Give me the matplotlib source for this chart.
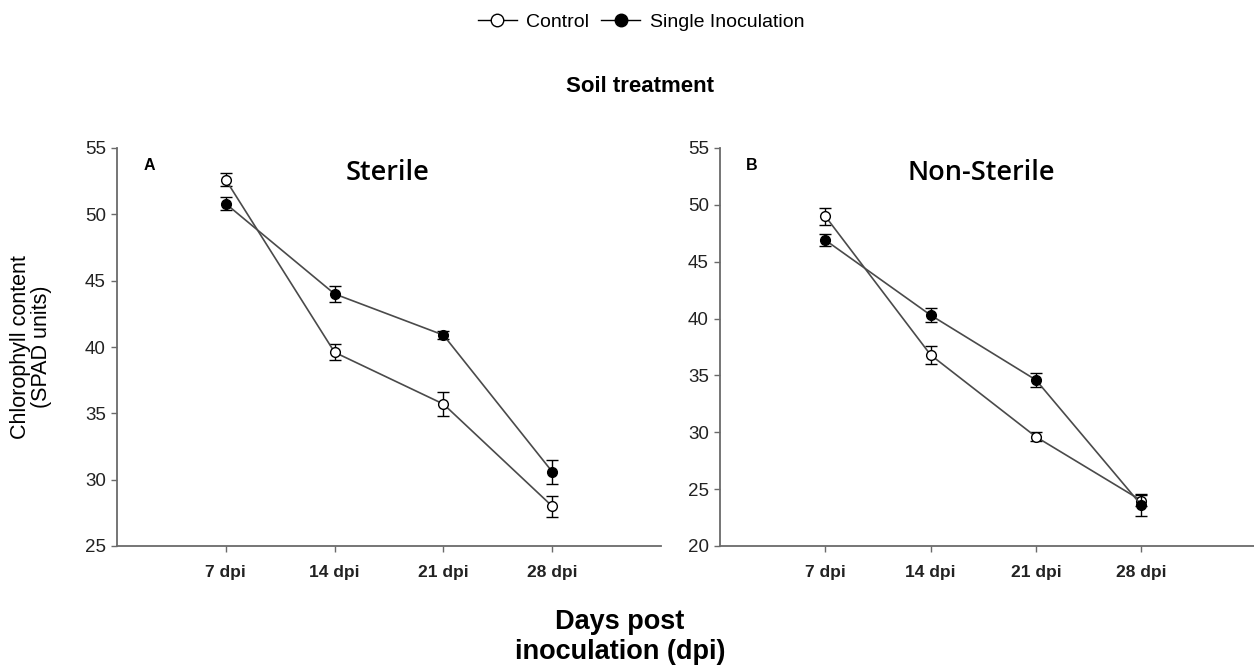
import matplotlib
matplotlib.use("Agg")
import matplotlib.pyplot as plt
from matplotlib.lines import Line2D

days = ["7 dpi", "14 dpi", "21 dpi", "28 dpi"]
xpos = [1, 2, 3, 4]

sterile_control = [52.6, 39.6, 35.7, 28.0]
sterile_control_err = [0.5, 0.6, 0.9, 0.8]
sterile_single = [50.8, 44.0, 40.9, 30.6]
sterile_single_err = [0.5, 0.6, 0.3, 0.9]

nonsterile_control = [49.0, 36.8, 29.6, 24.0]
nonsterile_control_err = [0.75, 0.8, 0.4, 0.5]
nonsterile_single = [46.9, 40.3, 34.6, 23.6]
nonsterile_single_err = [0.5, 0.6, 0.6, 1.0]

plt.rcParams['font.family'] = ['Liberation Sans', 'DejaVu Sans']

W, H = 1254, 666
fig = plt.figure(figsize=(W / 100, H / 100), dpi=100)

def frac_box(x0, x1, ytop, ybot):
    return [x0 / W, 1 - ybot / H, (x1 - x0) / W, (ybot - ytop) / H]

axA = fig.add_axes(frac_box(117, 661, 148, 546))
axB = fig.add_axes(frac_box(720, 1254, 148, 546))

line_col = '#4a4a4a'
spine_col = '#6a6a6a'

def draw(ax, ctrl, ctrl_err, single, single_err, ylim, yticks, xmax, letter, title, title_x):
    ax.errorbar(xpos, ctrl, yerr=ctrl_err, color=line_col, lw=1.2, marker='o',
                mfc='white', mec='black', mew=1.0, ms=7, capsize=4, capthick=1.0,
                elinewidth=1.0, ecolor='black', zorder=3)
    ax.errorbar(xpos, single, yerr=single_err, color=line_col, lw=1.2, marker='o',
                mfc='black', mec='black', ms=7, capsize=4, capthick=1.0,
                elinewidth=1.0, ecolor='black', zorder=4)
    ax.set_xlim(0, xmax)
    ax.set_ylim(*ylim)
    ax.set_yticks(yticks)
    ax.set_xticks(xpos)
    ax.set_xticklabels(days, fontweight='bold', fontsize=12.5)
    ax.tick_params(axis='y', labelsize=13.5, length=4, width=1, color=spine_col,
                   labelcolor='#222222', direction='out', pad=4)
    ax.tick_params(axis='x', length=4, width=1, color=spine_col, labelcolor='#222222',
                   direction='out', pad=10)
    for s in ['top', 'right']:
        ax.spines[s].set_visible(False)
    for s in ['left', 'bottom']:
        ax.spines[s].set_color(spine_col)
        ax.spines[s].set_linewidth(1.3)
    ax.text(0.06, 0.955, letter, transform=ax.transAxes, fontsize=11.5,
            fontweight='bold', ha='center', va='center')
    ax.text(title_x, 0.937, title, transform=ax.transAxes, fontsize=19.5,
            family='Open Sans', fontweight='semibold', ha='center', va='center')

draw(axA, sterile_control, sterile_control_err, sterile_single, sterile_single_err,
     (25, 55), [25, 30, 35, 40, 45, 50, 55], 5.0, 'A', 'Sterile', 0.498)
draw(axB, nonsterile_control, nonsterile_control_err, nonsterile_single, nonsterile_single_err,
     (20, 55), [20, 25, 30, 35, 40, 45, 50, 55], 5.07, 'B', 'Non-Sterile', 0.49)

fig.text(31 / W, 1 - 347 / H, 'Chlorophyll content\n(SPAD units)', rotation=90,
         ha='center', va='center', fontsize=15.5, linespacing=1.05)

fig.text(640 / W, 1 - 87 / H, 'Soil treatment', ha='center', va='center',
         fontsize=16, fontweight='bold')
fig.text(620 / W, 1 - 637 / H, 'Days post\ninoculation (dpi)', ha='center',
         va='center', fontsize=19.5, fontweight='bold', linespacing=1.2)

handles = [
    Line2D([], [], color='black', lw=1.0, marker='o', mfc='white', mec='black', ms=9),
    Line2D([], [], color='black', lw=1.0, marker='o', mfc='black', mec='black', ms=9),
]
fig.legend(handles, ['Control', 'Single Inoculation'], loc='center',
           bbox_to_anchor=(641 / W, 1 - 22 / H), ncol=2, frameon=False,
           fontsize=14, handlelength=2.0, columnspacing=0.6, handletextpad=0.5)

fig.savefig('out.png', dpi=100)
